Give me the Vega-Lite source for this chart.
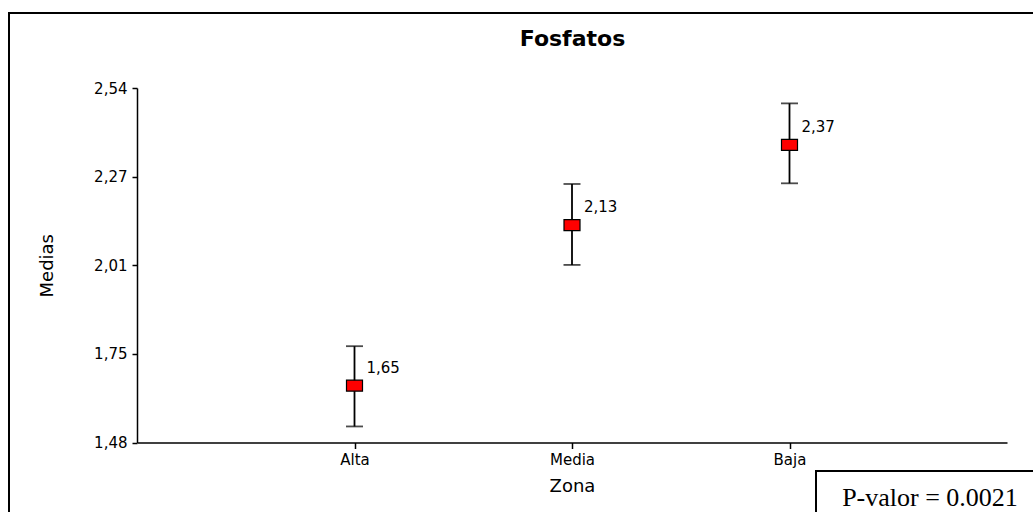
{
  "$schema": "https://vega.github.io/schema/vega-lite/v6.json",
  "width": 1027,
  "height": 502,
  "autosize": {"type": "none"},
  "padding": {"left": 9, "top": 13, "right": -3, "bottom": -3},
  "background": "white",
  "title": {
    "text": "Fosfatos",
    "font": "DejaVu Sans",
    "fontSize": 22,
    "fontWeight": "bold",
    "color": "black",
    "anchor": "middle",
    "dx": 50,
    "offset": -55,
    "baseline": "alphabetic"
  },
  "config": {
    "view": {"stroke": "black", "strokeWidth": 2},
    "axis": {"grid": false}
  },
  "data": {
    "values": [
      {"zona": "Alta", "media": 1.65, "inf": 1.528, "sup": 1.768, "etiqueta": "1,65"},
      {"zona": "Media", "media": 2.13, "inf": 2.011, "sup": 2.253, "etiqueta": "2,13"},
      {"zona": "Baja", "media": 2.37, "inf": 2.255, "sup": 2.494, "etiqueta": "2,37"}
    ]
  },
  "encoding": {
    "x": {
      "field": "zona",
      "type": "nominal",
      "sort": ["Alta", "Media", "Baja"],
      "scale": {"type": "point", "padding": 1, "range": [128, 998]},
      "axis": {
        "orient": "bottom",
        "offset": -72.5,
        "title": "Zona",
        "labelAngle": 0,
        "domainColor": "black",
        "domainWidth": 1.5,
        "tickColor": "black",
        "tickWidth": 1.5,
        "tickSize": 6,
        "labelPadding": 4,
        "labelFont": "DejaVu Sans",
        "labelFontSize": 15,
        "labelColor": "black",
        "titleFont": "DejaVu Sans",
        "titleFontSize": 18,
        "titleFontWeight": "normal",
        "titleColor": "black",
        "titlePadding": 10
      }
    }
  },
  "layer": [
    {
      "mark": {"type": "rule", "color": "black", "strokeWidth": 1.8},
      "encoding": {
        "y": {
          "field": "inf",
          "type": "quantitative",
          "title": "Medias",
          "scale": {"domain": [1.48, 2.54], "range": [429.5, 75], "nice": false, "zero": false},
          "axis": {
            "orient": "left",
            "offset": -128,
            "values": [1.48, 1.745, 2.01, 2.275, 2.54],
            "labelExpr": "datum.value < 1.6 ? '1,48' : datum.value < 1.9 ? '1,75' : datum.value < 2.1 ? '2,01' : datum.value < 2.4 ? '2,27' : '2,54'",
            "domainColor": "black",
            "domainWidth": 1.5,
            "tickColor": "black",
            "tickWidth": 1.5,
            "tickSize": 5,
            "labelPadding": 5,
            "labelFont": "DejaVu Sans",
            "labelFontSize": 15,
            "labelColor": "black",
            "titleFont": "DejaVu Sans",
            "titleFontSize": 18,
            "titleFontWeight": "normal",
            "titleColor": "black",
            "titlePadding": 37
          }
        },
        "y2": {"field": "sup"}
      }
    },
    {
      "mark": {"type": "tick", "color": "black", "thickness": 1.8, "size": 17, "orient": "horizontal"},
      "encoding": {"y": {"field": "inf", "type": "quantitative", "title": "Medias"}}
    },
    {
      "mark": {"type": "tick", "color": "black", "thickness": 1.8, "size": 17, "orient": "horizontal"},
      "encoding": {"y": {"field": "sup", "type": "quantitative", "title": "Medias"}}
    },
    {
      "mark": {
        "type": "point",
        "shape": "M-1,-0.6875L1,-0.6875L1,0.6875L-1,0.6875Z",
        "size": 256,
        "filled": true,
        "fill": "#ff0000",
        "stroke": "black",
        "strokeWidth": 1.2,
        "opacity": 1
      },
      "encoding": {"y": {"field": "media", "type": "quantitative", "title": "Medias"}}
    },
    {
      "mark": {
        "type": "text",
        "align": "left",
        "baseline": "alphabetic",
        "dx": 12,
        "dy": -13,
        "font": "DejaVu Sans",
        "fontSize": 15,
        "color": "black"
      },
      "encoding": {
        "y": {"field": "media", "type": "quantitative", "title": "Medias"},
        "text": {"field": "etiqueta", "type": "nominal"}
      }
    },
    {
      "data": {"values": [{"texto": "P-valor = 0.0021"}]},
      "mark": {"type": "rect", "fill": "white", "stroke": "black", "strokeWidth": 2, "width": 240, "xOffset": 146.5},
      "encoding": {
        "x": {"datum": "Baja", "type": "nominal"},
        "y": {"datum": 1.395, "type": "quantitative"},
        "y2": {"datum": 1.2}
      }
    },
    {
      "data": {"values": [{"texto": "P-valor = 0.0021"}]},
      "mark": {
        "type": "text",
        "font": "Liberation Serif",
        "fontSize": 26,
        "align": "center",
        "baseline": "alphabetic",
        "dx": 140.5,
        "color": "black"
      },
      "encoding": {
        "x": {"datum": "Baja", "type": "nominal"},
        "y": {"datum": 1.29, "type": "quantitative"},
        "text": {"field": "texto", "type": "nominal"}
      }
    }
  ]
}
